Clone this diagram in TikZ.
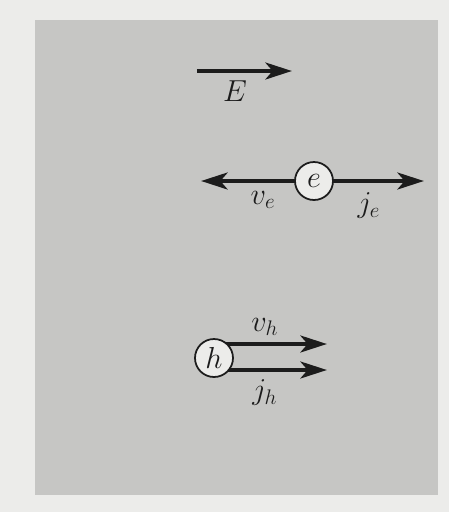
\documentclass[tikz,border=0pt]{standalone}
\usetikzlibrary{arrows.meta}
\definecolor{paper}{RGB}{236,236,234}
\definecolor{panel}{RGB}{198,198,196}
\definecolor{ink}{RGB}{28,28,28}
\definecolor{disc}{RGB}{236,236,234}
\tikzset{
  vec/.style={ink,line width=2.7pt,-{Stealth[length=15pt,width=9.5pt,inset=4pt]}},
  particle/.style={circle,draw=ink,line width=1pt,fill=disc,minimum size=0.76cm,inner sep=0pt},
  lbl/.style={text=ink,font=\fontsize{18}{20}\selectfont}
}
\begin{document}
\begin{tikzpicture}[x=0.02cm,y=-0.02cm]
\fill[paper] (0,0) rectangle (449,512);
\fill[panel] (35,20) rectangle (438,495);
\coordinate (E1) at (197,71);
\coordinate (E2) at (292,71);
\coordinate (e) at (314,181);
\coordinate (VE) at (201,181);
\coordinate (JE) at (424,181);
\coordinate (h) at (214,358);
\coordinate (VH) at (327,344);
\coordinate (JH) at (327,370);
\draw[vec] (E1)--(E2) node[lbl,pos=0.4,below=1pt] {$E$};
\draw[vec] (e)--(VE) node[lbl,pos=0.45,below=1pt] {$v_e$};
\draw[vec] (e)--(JE) node[lbl,pos=0.5,below=2pt] {$j_e$};
\draw[vec] (h |- VH)--(VH) node[lbl,pos=0.45,above=0pt] {$v_h$};
\draw[vec] (h |- JH)--(JH) node[lbl,pos=0.45,below=1pt] {$j_h$};
\node[particle,lbl] (ep) at (e) {$e$};
\node[particle,lbl] (hp) at (h) {$h$};
\end{tikzpicture}
\end{document}
